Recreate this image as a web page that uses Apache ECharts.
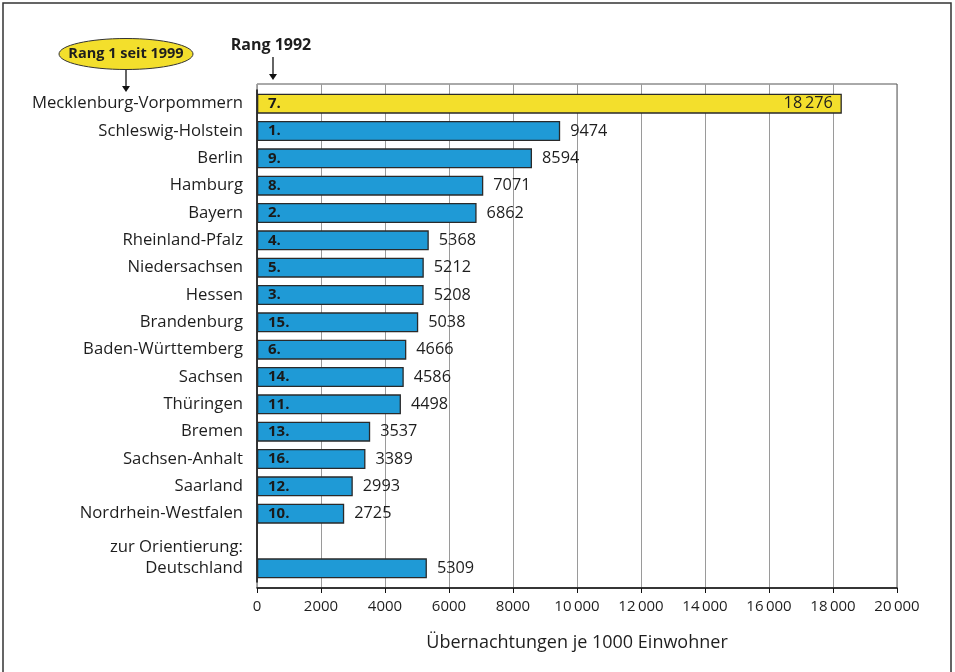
<!DOCTYPE html>
<html><head><meta charset="utf-8">
<script src="https://cdn.jsdelivr.net/npm/echarts@6/dist/echarts.min.js"></script>
<style>html,body{margin:0;padding:0;background:#fff}#c{width:955px;height:672px}</style>
</head><body><div id="c"></div>
<script>
const categories = ['Mecklenburg-Vorpommern','Schleswig-Holstein','Berlin','Hamburg','Bayern','Rheinland-Pfalz','Niedersachsen','Hessen','Brandenburg','Baden-Württemberg','Sachsen','Thüringen','Bremen','Sachsen-Anhalt','Saarland','Nordrhein-Westfalen','','Deutschland'];
const values = [18276,9474,8594,7071,6862,5368,5212,5208,5038,4666,4586,4498,3537,3389,2993,2725,null,5309];
const ranks1992 = ['7.','1.','9.','8.','2.','4.','5.','3.','15.','6.','14.','11.','13.','16.','12.','10.','',''];
const xTicks = [0,2000,4000,6000,8000,10000,12000,14000,16000,18000,20000];

const FONT = 'Open Sans';
const BLUE = '#1f9ad6', YELLOW = '#f3df2c', DARK = '#1e1e1e';
function fmt(v){ if(v==null) return ''; return v>=10000 ? String(v).replace(/\B(?=(\d{3})+(?!\d))/g,'\u2009') : String(v); }

const chart = echarts.init(document.getElementById('c'));
const valueData = values.map((v,i)=>({
  value: v,
  itemStyle: {color: i===0 ? YELLOW : BLUE},
  label: i===0 ? {position:'insideRight', distance: 9} : undefined
}));
chart.setOption({
  animation: false,
  textStyle: {fontFamily: FONT},
  grid: [
    {left: 257, right: 58, top: 84, height: 504, show: true, borderColor: '#555', borderWidth: 1, backgroundColor: 'transparent'},
    {left: 257, right: 58, top: 90, height: 492}
  ],
  xAxis: [
    {gridIndex:0, type:'value', min:0, max:20000, interval:2000,
     name:'Übernachtungen je 1000 Einwohner', nameLocation:'middle', nameGap: 46,
     nameTextStyle:{fontSize:18, color:DARK, fontFamily:FONT},
     axisLine:{show:true, lineStyle:{color:'#111', width:1.5}},
     axisTick:{show:true, length:5, lineStyle:{color:'#111'}},
     axisLabel:{fontSize:15, color:DARK, margin:11, fontFamily:FONT, formatter: v=>fmt(v)},
     splitLine:{show:true, lineStyle:{color:'#9a9a9a', width:1}}},
    {gridIndex:1, type:'value', min:0, max:20000, show:false}
  ],
  yAxis: [
    {gridIndex:0, type:'value', show:false},
    {gridIndex:1, type:'category', inverse:true, data: categories.map((c,i)=> i===categories.length-1 ? 'zur Orientierung:\n'+c+'\n ' : c),
     axisLine:{show:true, onZero:false, lineStyle:{color:'#111', width:1.5}},
     axisTick:{show:false},
     axisLabel:{fontSize:16.7, color:DARK, margin:14, lineHeight:21, fontFamily:FONT},
     splitLine:{show:false}}
  ],
  series: [
    {type:'bar', xAxisIndex:1, yAxisIndex:1, data: valueData, barWidth:20, barGap:'-100%',
     itemStyle:{borderColor:'#2a2a2a', borderWidth:1.3},
     label:{show:true, position:'right', distance:10, fontSize:16.3, color:DARK, fontFamily:FONT, formatter: p=>fmt(p.value)}},
    {type:'bar', xAxisIndex:1, yAxisIndex:1, data: values, barWidth:20, barGap:'-100%', silent:true,
     itemStyle:{color:'transparent'},
     label:{show:true, position:'insideLeft', distance:11, fontSize:15, fontWeight:'bold', color:'#1a1a1a', fontFamily:FONT, formatter: p=>ranks1992[p.dataIndex]}}
  ],
  graphic: [
    {type:'rect', shape:{x:3, y:3, width:948, height:680}, style:{fill:'none', stroke:'#333', lineWidth:1.5}, silent:true},
    {type:'ellipse', shape:{cx:126, cy:54, rx:67, ry:15.5}, style:{fill:YELLOW, stroke:'#333', lineWidth:1}},
    {type:'text', x:126, y:54, style:{text:'Rang 1 seit 1999', font:'bold 14.5px "'+FONT+'"', fill:DARK, align:'center', verticalAlign:'middle'}},
    {type:'line', shape:{x1:126, y1:70, x2:126, y2:87}, style:{stroke:'#111', lineWidth:1.3}},
    {type:'polygon', shape:{points:[[122,86],[130,86],[126,92]]}, style:{fill:'#111'}},
    {type:'text', x:271, y:45, style:{text:'Rang 1992', font:'bold 16px "'+FONT+'"', fill:DARK, align:'center', verticalAlign:'middle'}},
    {type:'line', shape:{x1:273, y1:57, x2:273, y2:75}, style:{stroke:'#111', lineWidth:1.3}},
    {type:'polygon', shape:{points:[[269,74],[277,74],[273,80]]}, style:{fill:'#111'}}
  ]
});
</script></body></html>
